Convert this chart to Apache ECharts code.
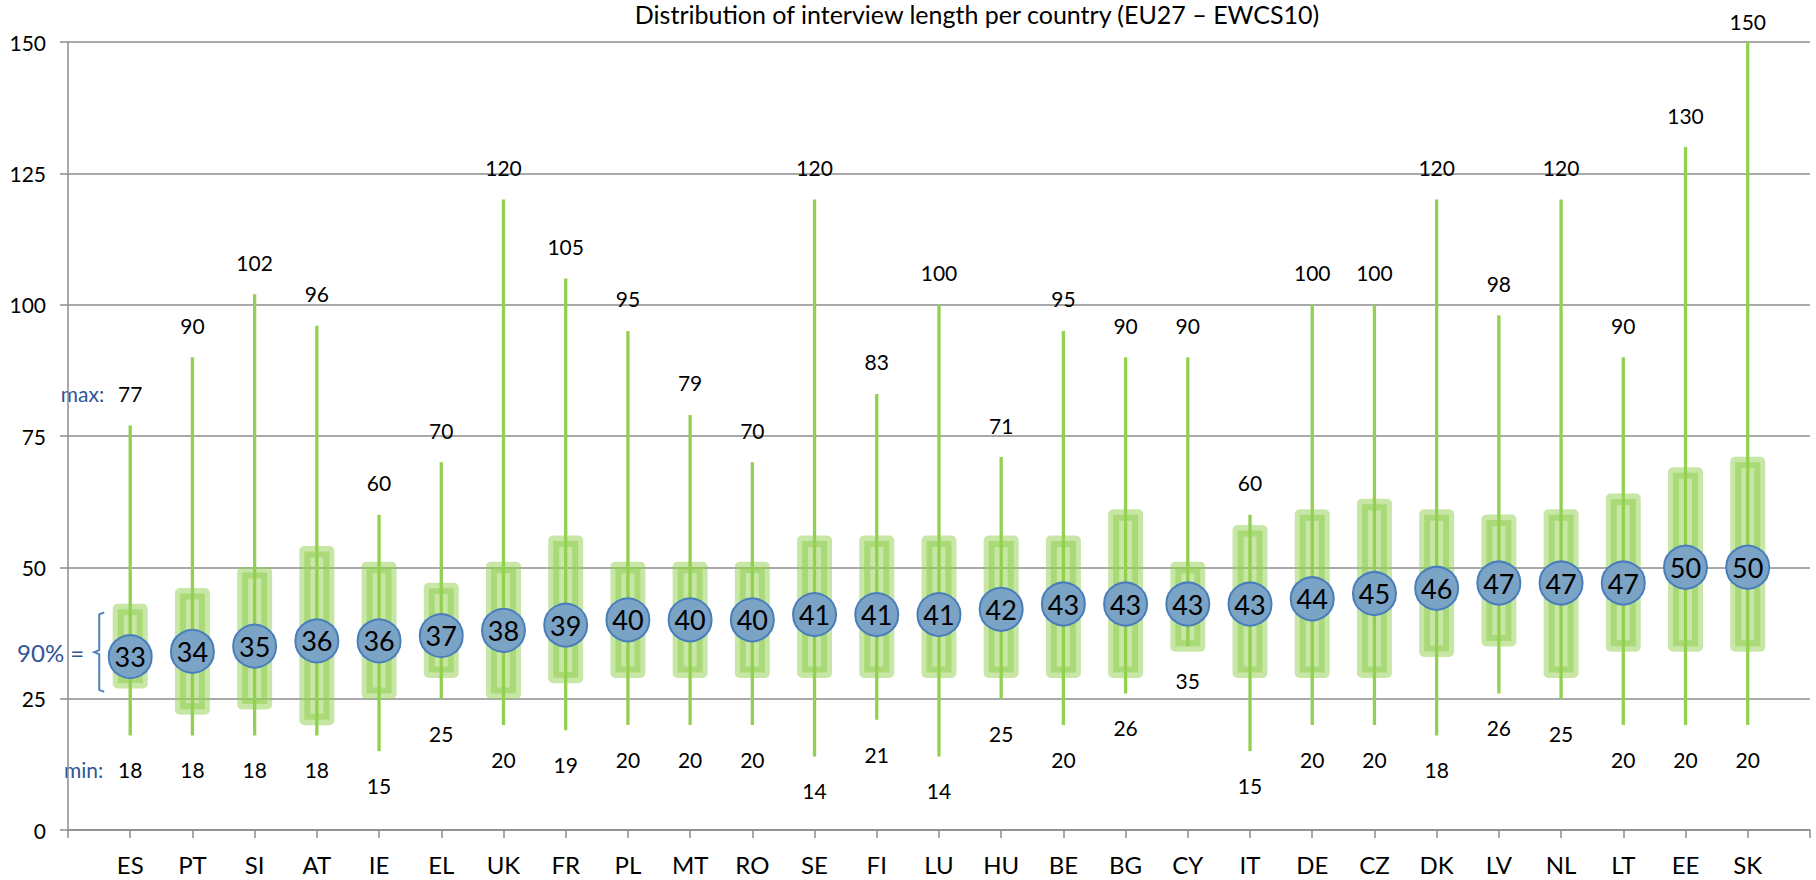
<!DOCTYPE html>
<html>
<head>
<meta charset="utf-8">
<script src="https://cdn.jsdelivr.net/npm/echarts@6/dist/echarts.min.js"></script>
<style>
html,body{margin:0;padding:0;background:#fff;}
#main{width:1816px;height:880px;}
</style>
</head>
<body>
<div id="main"></div>
<script>
// ---- data ----
const title = 'Distribution of interview length per country (EU27 \u2013 EWCS10)';
const categories = ['ES','PT','SI','AT','IE','EL','UK','FR','PL','MT','RO','SE','FI','LU','HU','BE','BG','CY','IT','DE','CZ','DK','LV','NL','LT','EE','SK'];
const medians = [33,34,35,36,36,37,38,39,40,40,40,41,41,41,42,43,43,43,43,44,45,46,47,47,47,50,50];
const mins    = [18,18,18,18,15,25,20,19,20,20,20,14,21,14,25,20,26,35,15,20,20,18,26,25,20,20,20];
const maxs    = [77,90,102,96,60,70,120,105,95,79,70,120,83,100,71,95,90,90,60,100,100,120,98,120,90,130,150];
const p5      = [28,23,24,21,26,30,26,29,30,30,30,30,30,30,30,30,30,35,30,30,30,34,36,30,35,35,35];
const p95     = [42,45,49,53,50,46,50,55,50,50,50,55,55,55,55,55,60,50,57,60,62,60,59,60,63,68,70];
const yTicks  = [0,25,50,75,100,125,150];

// ---- build ----
const axisCats = [''].concat(categories).concat([' ']);
const boxData = categories.map((c,i)=>[i+1, p5[i], p95[i], mins[i], maxs[i]]);
const medData = categories.map((c,i)=>[i+1, medians[i]]);
const FONT = 'Lato, "Open Sans", sans-serif';
const BLUE_TXT = '#2f5597';

function renderBox(params, api){
  const x = api.value(0);
  const lo = api.coord([x, api.value(1)]);
  const hi = api.coord([x, api.value(2)]);
  const pmn = api.coord([x, api.value(3)]);
  const pmx = api.coord([x, api.value(4)]);
  const cx = hi[0];
  const h = lo[1]-hi[1];
  const ty = Math.max(pmx[1]-32, 21);
  return {type:'group', children:[
    {type:'rect', shape:{x:cx-17.5, y:hi[1]-5.5, width:35, height:h+11, r:5}, style:{fill:'rgba(146,208,80,0.5)'}},
    {type:'rect', shape:{x:cx-9.5, y:hi[1]+3, width:19, height:h-6}, style:{fill:'none', stroke:'rgba(146,208,80,0.55)', lineWidth:6}},
    {type:'line', shape:{x1:cx, y1:pmx[1], x2:cx, y2:pmn[1]}, style:{stroke:'#92d050', lineWidth:3.3}},
    {type:'text', x:cx, y:ty, style:{text:String(api.value(4)), fill:'#000', font:'21px '+FONT, align:'center', verticalAlign:'middle', textAlign:'center', textVerticalAlign:'middle'}},
    {type:'text', x:cx, y:pmn[1]+34.5, style:{text:String(api.value(3)), fill:'#000', font:'21px '+FONT, align:'center', verticalAlign:'middle', textAlign:'center', textVerticalAlign:'middle'}}
  ]};
}

const option = {
  animation:false,
  backgroundColor:'#fff',
  grid:{left:68, right:-10, top:42, bottom:50, containLabel:false},
  xAxis:{
    type:'category', data:axisCats, boundaryGap:false,
    axisLine:{lineStyle:{color:'#8c8c8c', width:1.5}},
    axisTick:{show:true, length:8, lineStyle:{color:'#8c8c8c', width:1.5}, interval:0},
    axisLabel:{interval:0, margin:22, color:'#000', fontSize:24, fontFamily:FONT},
    splitLine:{show:false}
  },
  yAxis:{
    type:'value', min:yTicks[0], max:yTicks[yTicks.length-1], interval:25,
    axisLine:{show:true, lineStyle:{color:'#8c8c8c', width:1.5}},
    axisTick:{show:true, length:8, lineStyle:{color:'#8c8c8c', width:1.5}},
    axisLabel:{margin:22, color:'#000', fontSize:21, fontFamily:FONT},
    splitLine:{show:true, lineStyle:{color:'#8c8c8c', width:1.5}}
  },
  series:[
    {type:'custom', renderItem:renderBox, data:boxData, clip:false, z:2,
     encode:{x:0, y:[1,2,3,4]}},
    {type:'scatter', data:medData, symbol:'circle', symbolSize:43, z:5,
     itemStyle:{color:'#7aa3c5', borderColor:'#4a7ebb', borderWidth:2, opacity:1},
     label:{show:true, position:'inside', formatter:p=>String(p.value[1]), color:'#000', fontSize:27, fontFamily:FONT}}
  ]
};

const chart = echarts.init(document.getElementById('main'), null, {renderer:'svg'});
chart.setOption(option);

// annotations
const pMax = chart.convertToPixel({gridIndex:0}, [1, maxs[0]]);
const pMin = chart.convertToPixel({gridIndex:0}, [1, mins[0]]);
const pHi = chart.convertToPixel({gridIndex:0}, [1, p95[0]]);
const pLo = chart.convertToPixel({gridIndex:0}, [1, p5[0]]);
const ex = pMax[0];
const bTop = pHi[1]+3, bBot = pLo[1]+9, bMid = (bTop+bBot)/2;
const bx = ex-31;
chart.setOption({graphic:[
  {type:'text', x:977, y:14, style:{text:title, fill:'#000', font:'25px '+FONT, align:'center', verticalAlign:'middle', textAlign:'center', textVerticalAlign:'middle'}},
  {type:'text', x:ex-26, y:pMax[1]-32, style:{text:'max:', fill:BLUE_TXT, font:'21px '+FONT, align:'right', verticalAlign:'middle', textAlign:'right', textVerticalAlign:'middle'}},
  {type:'text', x:ex-27, y:pMin[1]+34.5, style:{text:'min:', fill:BLUE_TXT, font:'21px '+FONT, align:'right', verticalAlign:'middle', textAlign:'right', textVerticalAlign:'middle'}},
  {type:'text', x:ex-46, y:bMid, style:{text:'90% =', fill:BLUE_TXT, font:'24px '+FONT, align:'right', verticalAlign:'middle', textAlign:'right', textVerticalAlign:'middle'}},
  {type:'polyline', shape:{points:[[bx+5,bTop],[bx,bTop+2],[bx,bMid-2],[bx-5,bMid],[bx,bMid+2],[bx,bBot-2],[bx+5,bBot]]}, style:{fill:'none', stroke:'#4f81bd', lineWidth:2}}
]});
</script>
</body>
</html>
